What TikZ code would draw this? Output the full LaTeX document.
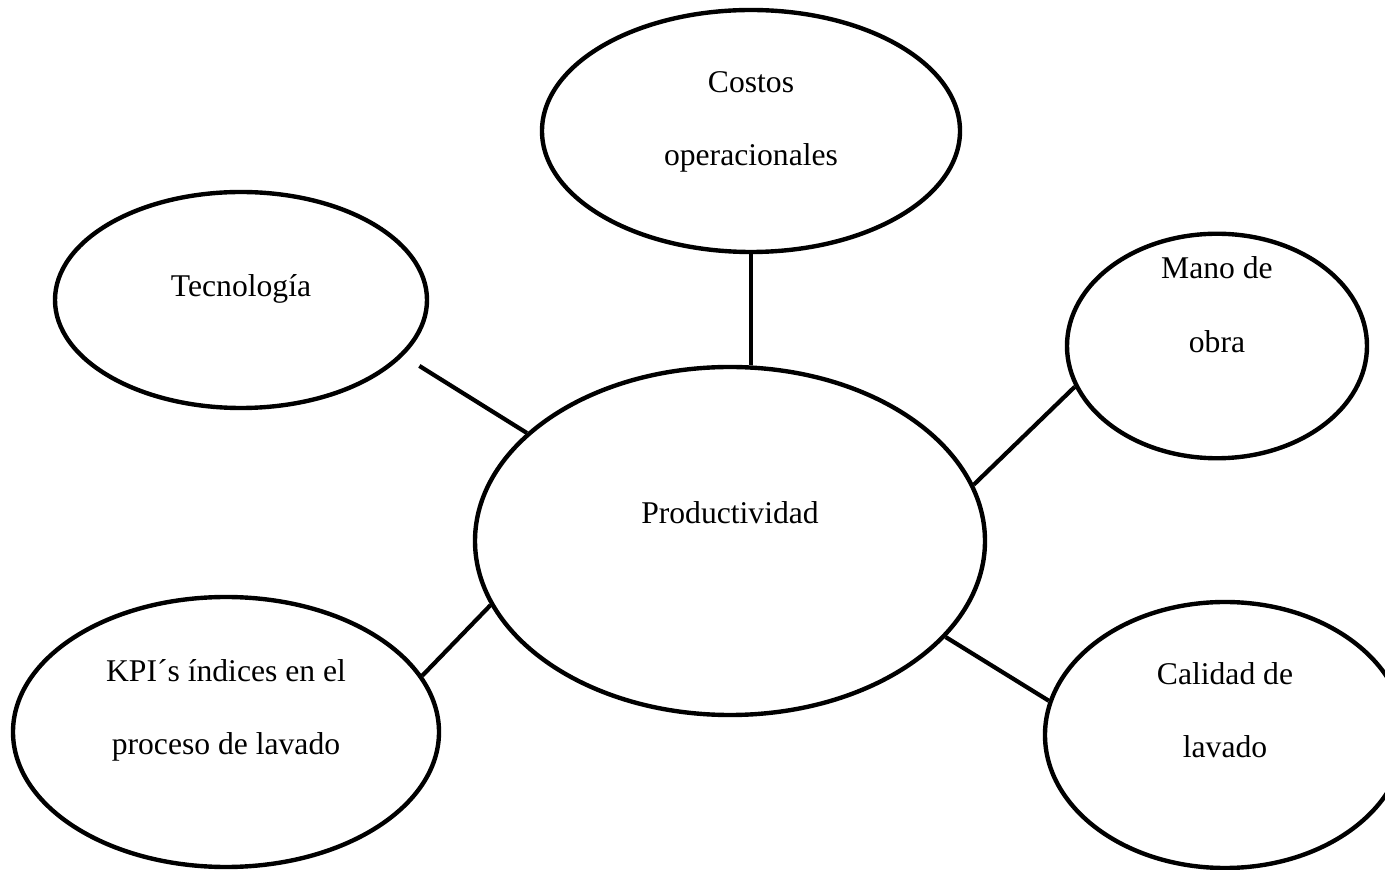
\documentclass[tikz,border=0pt]{standalone}
\usepackage{fontspec}
\setmainfont{Liberation Serif}
\usepackage{tikz}
\usetikzlibrary{shapes.geometric}

\begin{document}
\begin{tikzpicture}[
    bubble/.style={draw, ellipse, line width=2.5pt, align=center, inner sep=0pt,
                   font=\fontsize{18}{42}\selectfont},
    link/.style={line width=2.4pt}
  ]
    \useasboundingbox (0,0) rectangle (27.7,17.4);

    % central idea
    \node[bubble, minimum width=10.2cm, minimum height=6.96cm, text depth=1.14cm]
        (prod) at (14.6,6.58) {Productividad};

    % surrounding factors
    \node[bubble, minimum width=8.36cm, minimum height=4.84cm, text depth=0.5cm]
        (cost) at (15.02,14.78) {Costos\\operacionales};
    \node[bubble, minimum width=7.44cm, minimum height=4.32cm, text depth=0.56cm]
        (tec) at (4.82,11.4) {Tecnología};
    \node[bubble, minimum width=6cm, minimum height=4.48cm, text depth=1.66cm, inner ysep=-0.2cm]
        (mano) at (24.34,10.48) {Mano de\\obra};
    \node[bubble, minimum width=8.52cm, minimum height=5.4cm, text depth=1.0cm]
        (kpi) at (4.52,2.76) {KPI´s índices en el\\proceso de lavado};
    \node[bubble, minimum width=7.2cm, minimum height=5.32cm, text depth=1.0cm]
        (cal) at (24.5,2.7) {Calidad de\\lavado};

    % connectors
    \draw[link] (cost.south) -- (cost.south |- prod.north);
    \draw[link, shorten <=0.38cm] (tec.-19.4) -- (prod.152.9);
    \draw[link] (mano.196.4) -- (prod.13.4);
    \draw[link] (kpi.16.1) -- (prod.195.05);
    \draw[link] (cal.169.3) -- (prod.-24.1);
\end{tikzpicture}
\end{document}
